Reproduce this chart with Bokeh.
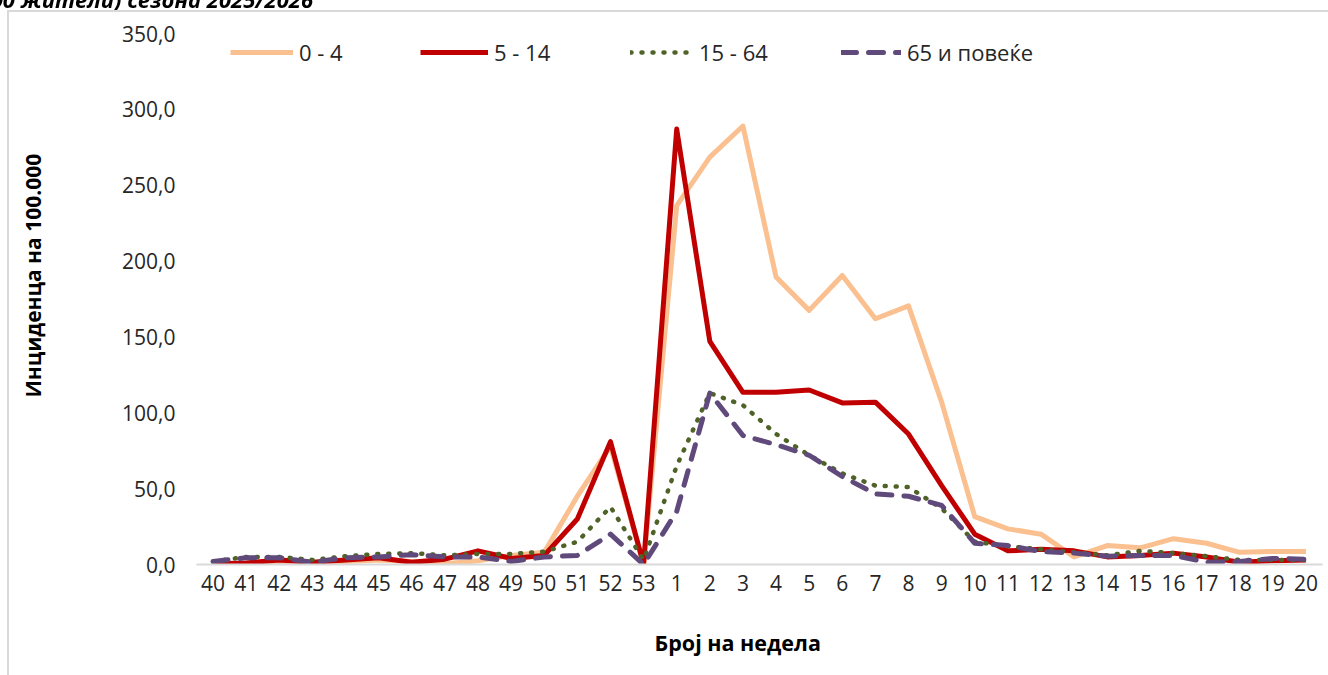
from bokeh.plotting import figure
from bokeh.models import Legend, LegendItem, FactorRange, Range1d, Div, FixedTicker, Title
from bokeh.layouts import column
from bokeh.embed import file_html
from bokeh.resources import INLINE

# ---------------- data ----------------
weeks = ["40", "41", "42", "43", "44", "45", "46", "47", "48", "49", "50", "51", "52", "53",
         "1", "2", "3", "4", "5", "6", "7", "8", "9", "10", "11", "12", "13", "14", "15",
         "16", "17", "18", "19", "20"]

series_names = ["0 - 4", "5 - 14", "15 - 64", "65 и повеќе"]

age_0_4 = [0.5, 0.5, 1.0, 1.0, 2.0, 3.0, 2.0, 0.5, 2.5, 6.0, 8.0, 45.0, 78.0, 0.0,
           236.5, 268.5, 289.0, 189.5, 167.5, 190.5, 162.0, 170.5, 107.0, 31.5, 23.5,
           20.0, 5.0, 12.5, 11.0, 17.0, 14.0, 8.0, 8.5, 8.5]

age_5_14 = [0.5, 1.0, 3.0, 1.5, 3.0, 4.5, 1.5, 3.5, 9.0, 4.0, 6.0, 30.0, 81.0, 0.0,
            287.0, 147.0, 113.5, 113.5, 115.0, 106.5, 107.0, 86.0, 52.0, 20.0, 9.0,
            10.0, 9.0, 5.0, 6.0, 7.5, 5.0, 1.5, 2.5, 3.0]

age_15_64 = [2.0, 5.0, 5.0, 3.0, 5.5, 7.0, 7.5, 6.0, 7.0, 7.0, 8.5, 15.0, 38.0, 3.0,
             65.0, 113.0, 105.0, 86.0, 72.0, 60.0, 52.0, 51.0, 37.0, 15.0, 12.0,
             10.0, 8.0, 6.0, 9.0, 7.5, 5.5, 3.0, 3.0, 3.0]

age_65_plus = [2.0, 4.5, 4.5, 1.5, 4.5, 5.0, 6.5, 5.0, 5.0, 2.0, 5.0, 6.0, 20.0, 0.0,
               35.0, 113.0, 85.0, 79.0, 72.0, 58.0, 46.5, 45.0, 39.0, 14.0, 12.5,
               8.5, 7.5, 5.5, 6.0, 6.0, 1.5, 2.0, 4.0, 3.5]

y_ticks = [0, 50, 100, 150, 200, 250, 300, 350]
y_tick_labels = ["0,0", "50,0", "100,0", "150,0", "200,0", "250,0", "300,0", "350,0"]

x_title = "Број на недела"
y_title = "Инциденца на 100.000"
title_fragment = "(на 100.000 жители) сезона 2025/2026"

FONT = "Open Sans"
TEXT = "#262626"

# ---------------- figure ----------------
p = figure(x_range=FactorRange(factors=weeks), y_range=Range1d(0, 350),
           width=1328, height=672, output_backend="svg", toolbar_location=None,
           min_border_left=196, min_border_right=6, min_border_top=33,
           min_border_bottom=108)
p.outline_line_color = None
p.background_fill_color = "white"
p.border_fill_color = "white"
p.xgrid.visible = False
p.ygrid.visible = False

xa = p.xaxis[0]
xa.axis_line_color = "#D9D9D9"
xa.axis_line_width = 2
xa.major_tick_line_color = None
xa.minor_tick_line_color = None
xa.major_tick_out = 0
xa.major_label_standoff = 10
xa.major_label_text_font = FONT
xa.major_label_text_font_size = "21px"
xa.major_label_text_color = TEXT

ya = p.yaxis[0]
ya.ticker = FixedTicker(ticks=y_ticks)
ya.major_label_overrides = {t: l for t, l in zip(y_ticks, y_tick_labels)}
ya.axis_line_color = None
ya.major_tick_line_color = None
ya.minor_tick_line_color = None
ya.major_tick_out = 0
ya.major_label_standoff = 21
ya.major_label_text_font = FONT
ya.major_label_text_font_size = "21px"
ya.major_label_text_color = TEXT

# axis titles, placed where the reference has them (not centred on the frame)
# empty gap between the x tick labels and the x title
p.add_layout(Title(text=" ", standoff=24, text_font_size="1px",
                   text_color="#FFFFFF"), "below")
p.add_layout(Title(text=x_title, align="left", offset=458, standoff=10,
                   text_font=FONT, text_font_size="21.5px", text_font_style="bold",
                   text_color="#000000"), "below")
# empty gap between the y tick labels and the y title
p.add_layout(Title(text=" ", standoff=65, text_font_size="1px",
                   text_color="#FFFFFF"), "left")
p.add_layout(Title(text=y_title, align="left", offset=167, standoff=10,
                   text_font=FONT, text_font_size="21px", text_font_style="bold",
                   text_color="#000000"), "left")

r0 = p.line(weeks, age_0_4, line_color="#FAC090", line_width=5, line_join="round")
r1 = p.line(weeks, age_5_14, line_color="#C00000", line_width=5, line_join="round")
r2 = p.line(weeks, age_15_64, line_color="#4F6228", line_width=4.5,
            line_dash="1 10", line_cap="round", line_join="round")
r3 = p.line(weeks, age_65_plus, line_color="#604A7B", line_width=5,
            line_dash="15 12", line_cap="round", line_join="round")

legend_x = [34, 224, 434, 645]
legend_glyph_w = [63, 68, 63, 60]
for name, rend, lx, gw in zip(series_names, [r0, r1, r2, r3], legend_x, legend_glyph_w):
    leg = Legend(items=[LegendItem(label=name, renderers=[rend])],
                 location=(lx, 497), orientation="horizontal",
                 padding=0, margin=0, spacing=0,
                 glyph_width=gw, glyph_height=20, label_standoff=6,
                 label_height=20,
                 label_text_font=FONT, label_text_font_size="22px",
                 label_text_color=TEXT,
                 border_line_color=None, background_fill_alpha=0)
    p.add_layout(leg, "center")

overlay = Div(text=(
    '<div style="position:fixed;left:7px;top:10px;width:1400px;height:800px;'
    'border-left:2px solid #D9D9D9;border-top:2px solid #D9D9D9;pointer-events:none;"></div>'
    '<div style="position:fixed;left:0;top:0;width:313px;height:10px;overflow:hidden;pointer-events:none;">'
    '<span style="position:absolute;right:0;top:-11px;white-space:nowrap;font-family:\'Open Sans\';'
    'font-size:22px;font-weight:bold;font-style:italic;line-height:20px;color:#000;">'
    + title_fragment + '</span></div>'), width=10, height=1)

layout = column(p, overlay)
open("out.html", "w").write(file_html(layout, INLINE))
